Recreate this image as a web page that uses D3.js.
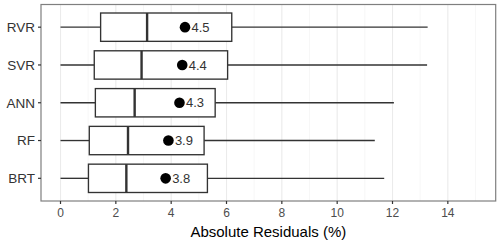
<!DOCTYPE html>
<html><head><meta charset="utf-8">
<script src="https://cdn.jsdelivr.net/npm/d3@7"></script>
<style>body{margin:0;background:#fff}svg{display:block}</style>
</head><body>
<script>
const categories = ["RVR","SVR","ANN","RF","BRT"];
const whiskerLow = [0,0,0,0,0];
const q1 = [1.45,1.22,1.26,1.04,1.01];
const median = [3.13,2.93,2.68,2.44,2.38];
const q3 = [6.19,6.04,5.59,5.19,5.31];
const whiskerHigh = [13.27,13.25,12.05,11.36,11.70];
const means = [4.5,4.4,4.3,3.9,3.8];
const meanLabels = ["4.5","4.4","4.3","3.9","3.8"];
const xTicks = [0,2,4,6,8,10,12,14];
const xMinor = [1,3,5,7,9,11,13,15];

const W=500,H=243;
const L=41,R=495.7,T=4.5,B=201;
const svg=d3.select("body").append("svg").attr("width",W).attr("height",H);
const x=d3.scaleLinear().domain([-0.705,15.73]).range([L,R]);
const y=d3.scalePoint().domain(categories).range([T,B]).padding(0.6);
const band=y.step()*0.75;
const font="'Liberation Sans', Arial, Helvetica, sans-serif";

const g=svg.append("g");
g.selectAll(".minor").data(xMinor).join("line")
 .attr("x1",d=>x(d)).attr("x2",d=>x(d)).attr("y1",T).attr("y2",B)
 .attr("stroke","#f2f2f2").attr("stroke-width",0.6);
g.selectAll(".major").data(xTicks).join("line")
 .attr("x1",d=>x(d)).attr("x2",d=>x(d)).attr("y1",T).attr("y2",B)
 .attr("stroke","#ebebeb").attr("stroke-width",1.1);

const data=categories.map((c,i)=>({c,lo:whiskerLow[i],q1:q1[i],md:median[i],q3:q3[i],hi:whiskerHigh[i],m:means[i],lab:meanLabels[i]}));
const col="#333333";
const sw=1.35;
const bx=g.selectAll(".box").data(data).join("g");
bx.append("line").attr("x1",d=>x(d.lo)).attr("x2",d=>x(d.q1)).attr("y1",d=>y(d.c)).attr("y2",d=>y(d.c)).attr("stroke",col).attr("stroke-width",sw);
bx.append("line").attr("x1",d=>x(d.q3)).attr("x2",d=>x(d.hi)).attr("y1",d=>y(d.c)).attr("y2",d=>y(d.c)).attr("stroke",col).attr("stroke-width",sw);
bx.append("rect").attr("x",d=>x(d.q1)).attr("width",d=>x(d.q3)-x(d.q1)).attr("y",d=>y(d.c)-band/2).attr("height",band)
 .attr("fill","#fff").attr("stroke",col).attr("stroke-width",sw);
bx.append("line").attr("x1",d=>x(d.md)).attr("x2",d=>x(d.md)).attr("y1",d=>y(d.c)-band/2).attr("y2",d=>y(d.c)+band/2).attr("stroke",col).attr("stroke-width",2.4);
bx.append("circle").attr("cx",d=>x(d.m)).attr("cy",d=>y(d.c)).attr("r",5.3).attr("fill","#000");
bx.append("text").attr("x",d=>x(d.m)+6.5).attr("y",d=>y(d.c)).attr("dy","0.36em")
 .attr("font-family",font).attr("font-size",13).attr("fill","#333").text(d=>d.lab);

svg.append("rect").attr("x",L).attr("y",T).attr("width",R-L).attr("height",B-T).attr("fill","none").attr("stroke","#7f7f7f").attr("stroke-width",1.2);

// x axis
const xa=svg.append("g");
xa.selectAll("line").data(xTicks).join("line").attr("x1",d=>x(d)).attr("x2",d=>x(d)).attr("y1",B).attr("y2",B+3).attr("stroke","#333").attr("stroke-width",1.2);
xa.selectAll("text").data(xTicks).join("text").attr("x",d=>x(d)).attr("y",B+15.5).attr("text-anchor","middle")
 .attr("font-family",font).attr("font-size",12).attr("fill","#4d4d4d").text(d=>d);
// y axis
const ya=svg.append("g");
ya.selectAll("line").data(categories).join("line").attr("x1",L-3).attr("x2",L).attr("y1",d=>y(d)).attr("y2",d=>y(d)).attr("stroke","#333").attr("stroke-width",1.2);
ya.selectAll("text").data(categories).join("text").attr("x",L-6).attr("y",d=>y(d)).attr("dy","0.36em").attr("text-anchor","end")
 .attr("font-family",font).attr("font-size",13.5).attr("fill","#333").text(d=>d);

svg.append("text").attr("x",(L+R)/2).attr("y",237).attr("text-anchor","middle").attr("font-family",font).attr("font-size",15).attr("fill","#000").text("Absolute Residuals (%)");
</script>
</body></html>
